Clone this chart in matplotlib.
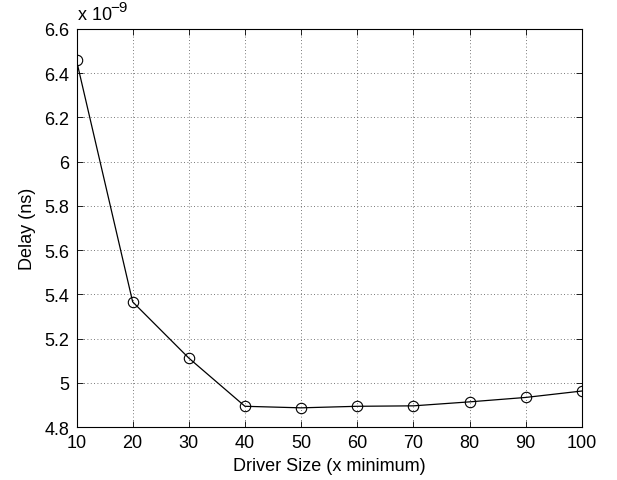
import matplotlib.pyplot as plt
from matplotlib.ticker import FormatStrFormatter, MultipleLocator

driver_size = [10, 20, 30, 40, 50, 60, 70, 80, 90, 100]
# delay in units of 1e-9 s, as on the axis
delay = [6.457, 5.366, 5.112, 4.894, 4.887, 4.894, 4.896, 4.914, 4.934, 4.963]

FS = 13

plt.rcParams.update({
    "font.family": ["Liberation Sans", "DejaVu Sans"],
    "font.size": FS,
})

fig = plt.figure(figsize=(6.17, 4.81), dpi=100)
ax = fig.add_axes([0.124, 0.110, 0.819, 0.828])

ax.plot(driver_size, delay, color="black", linewidth=0.9,
        marker="o", markersize=7.5, markerfacecolor="none",
        markeredgecolor="black", markeredgewidth=0.8)

ax.set_xlim(10, 100)
ax.set_ylim(4.8, 6.6)
ax.xaxis.set_major_locator(MultipleLocator(10))
ax.yaxis.set_major_locator(MultipleLocator(0.2))
ax.yaxis.set_major_formatter(FormatStrFormatter("%g"))

ax.grid(True, color="black", linestyle=(0, (1, 3)), linewidth=0.6, alpha=0.7)
ax.tick_params(direction="in", top=True, right=True, length=4, width=0.6,
               labelsize=FS, pad=5)
for s in ax.spines.values():
    s.set_linewidth(0.8)

ax.set_xlabel("Driver Size (x minimum)", fontsize=FS, labelpad=4)
ax.set_ylabel("Delay (ns)", fontsize=FS, labelpad=6)

# MATLAB-style exponent label above the axes
ax.annotate("x 10", xy=(0, 1), xycoords="axes fraction", xytext=(1, 4),
            textcoords="offset points", ha="left", va="bottom", fontsize=FS)
ax.annotate("\u22129", xy=(0, 1), xycoords="axes fraction", xytext=(24.5, 11),
            textcoords="offset points", ha="left", va="bottom", fontsize=FS - 2)

fig.savefig("out.png", dpi=100)
